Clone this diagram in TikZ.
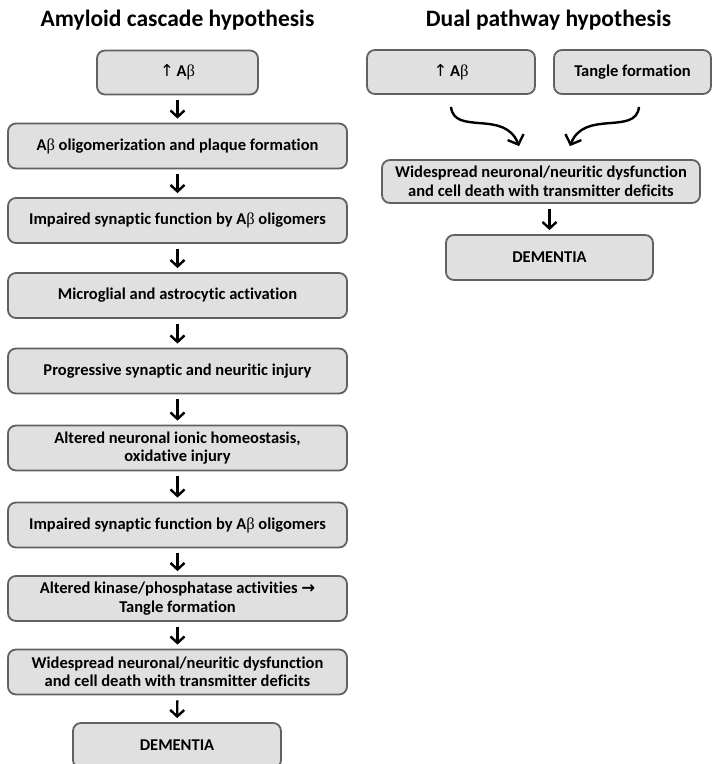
\documentclass[tikz,border=0pt]{standalone}
\usepackage{fontspec}
\setmainfont{Carlito}[Ligatures=NoCommon]
\newfontfamily\greekfont{Liberation Serif}
\newfontfamily\symfont{DejaVu Sans}
\usetikzlibrary{arrows.meta}
\newcommand{\Abeta}{A{\greekfont\mdseries β}}
\newcommand{\upar}{{\symfont\mdseries ↑}\,}
\begin{document}
\begin{tikzpicture}[x=1pt,y=-1pt,
  box/.style={draw=black!62, line width=1.8pt, fill=black!12, rounded corners=8pt,
    font=\bfseries\fontsize{16.5}{18.5}\selectfont, align=center, inner sep=2pt},
  widebox/.style={box, minimum width=339pt, minimum height=45pt},
  title/.style={font=\bfseries\fontsize{23.5}{26}\selectfont},
  flow/.style={line width=2.4pt, shorten <=5pt, shorten >=4pt,
    -{Straight Barb[length=6.5pt,width=14pt]}},
  curvearrow/.style={line width=2.4pt, -{Straight Barb[length=8pt,width=17pt]}}]
\useasboundingbox (0,0) rectangle (712,764);

% titles
\node[title] (tl) at (177.5,20) {Amyloid cascade hypothesis};
\node[title] (tr) at (548.5,20) {Dual pathway hypothesis};

% amyloid cascade column
\node[box, minimum width=161pt, minimum height=44pt] (a1) at (177.5,72.5) {\upar\Abeta};
\node[widebox] (a2) at (177.5,146) {\Abeta{} oligomerization and plaque formation};
\node[widebox] (a3) at (177.5,220.5) {Impaired synaptic function by \Abeta{} oligomers};
\node[widebox] (a4) at (177.5,295.5) {Microglial and astrocytic activation};
\node[widebox] (a5) at (177.5,371) {Progressive synaptic and neuritic injury};
\node[widebox] (a6) at (177.5,448) {Altered neuronal ionic homeostasis,\\oxidative injury};
\node[widebox] (a7) at (177.5,525) {Impaired synaptic function by \Abeta{} oligomers};
\node[widebox] (a8) at (177.5,598.5) {Altered kinase/phosphatase activities {\symfont→}\\Tangle formation};
\node[widebox] (a9) at (177.5,672) {Widespread neuronal/neuritic dysfunction\\and cell death with transmitter deficits};
\node[box, minimum width=208pt, minimum height=45pt] (a10) at (177,745.5) {DEMENTIA};

\foreach \u/\v in {a1/a2,a2/a3,a3/a4,a4/a5,a5/a6,a6/a7,a7/a8,a8/a9,a9/a10}
  \draw[flow] (\u) -- (\v);

% dual pathway column
\node[box, minimum width=168pt, minimum height=44pt] (d1) at (451,72) {\upar\Abeta};
\node[box, minimum width=157pt, minimum height=44pt] (d2) at (632.5,72) {Tangle formation};
\node[box, minimum width=318pt, minimum height=43pt] (d3) at (541,181.5) {Widespread neuronal/neuritic dysfunction\\and cell death with transmitter deficits};
\node[box, minimum width=207pt, minimum height=45pt] (d4) at (549.5,257.5) {DEMENTIA};

% both pathways converge on the shared dysfunction box
\draw[curvearrow] ([yshift=-12pt]d1.south) .. controls +(3,29) and +(-14,-37) .. ([xshift=-22pt,yshift=13pt]d3.north);
\draw[curvearrow] ([xshift=6.5pt,yshift=-12pt]d2.south) .. controls +(-3,29) and +(14,-37) .. ([xshift=29pt,yshift=13pt]d3.north);
\draw[flow] (d3.south -| d4) -- (d4);
\end{tikzpicture}
\end{document}
